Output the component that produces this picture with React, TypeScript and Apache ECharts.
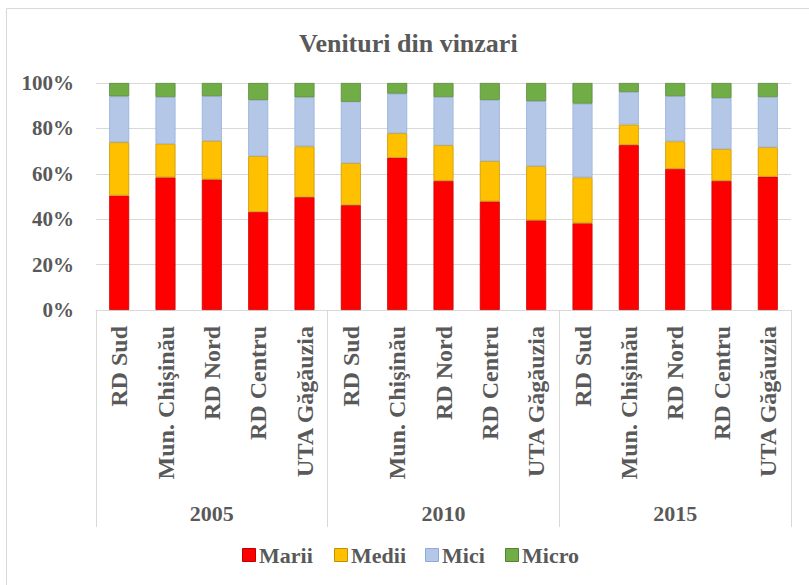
import React, { useEffect, useRef } from "react";
import * as echarts from "echarts";

const regions = ["RD Sud", "Mun. Chişinău", "RD Nord", "RD Centru", "UTA Găgăuzia"];
const years = ["2005", "2010", "2015"];
const categories = years.flatMap((y) => regions.map((r) => r));

const marii = [50.4, 58.4, 57.5, 43.2, 49.7, 46.2, 67.1, 56.9, 47.8, 39.5, 38.2, 72.7, 62.2, 56.9, 58.7];
const medii = [23.5, 14.8, 17.0, 24.6, 22.4, 18.5, 10.8, 15.7, 17.8, 23.9, 20.2, 9.0, 12.1, 14.0, 13.0];
const mici = [20.2, 20.6, 19.7, 24.7, 21.6, 27.0, 17.4, 21.2, 26.9, 28.6, 32.5, 14.3, 19.9, 22.5, 22.1];
const micro = [5.9, 6.2, 5.8, 7.5, 6.3, 8.3, 4.7, 6.2, 7.5, 8.0, 9.1, 4.0, 5.8, 6.6, 6.2];

const yTicks = [0, 20, 40, 60, 80, 100];

const seriesDefs = [
  { name: "Marii", data: marii, color: "#FF0000", border: "#C00000" },
  { name: "Medii", data: medii, color: "#FFC000", border: "#BF9000" },
  { name: "Mici", data: mici, color: "#B4C7E7", border: "#8FAADC" },
  { name: "Micro", data: micro, color: "#70AD47", border: "#548235" },
];

const FONT = "Liberation Serif";
const TXT = "#595959";

// legend layout (x of each swatch)
const legendX = [242, 334, 425, 505];
const legendY = 555;

export default function App() {
  const ref = useRef<HTMLDivElement>(null);
  useEffect(() => {
    if (!ref.current) return;
    const chart = echarts.init(ref.current, null, { renderer: "svg" });
    const legendGraphics: any[] = [];
    seriesDefs.forEach((s, i) => {
      legendGraphics.push({
        type: "rect",
        shape: { x: legendX[i] + 0.5, y: legendY - 6.5, width: 13, height: 13 },
        style: { fill: s.color, stroke: s.border, lineWidth: 1 },
        silent: true,
      });
      legendGraphics.push({
        type: "text",
        x: legendX[i] + 17,
        y: legendY,
        style: {
          text: s.name,
          fontFamily: FONT,
          fontWeight: "bold",
          fontSize: 22,
          fill: TXT,
          verticalAlign: "middle",
          align: "left",
        },
        silent: true,
      });
    });
    chart.setOption({
      animation: false,
      backgroundColor: "#ffffff",
      textStyle: { fontFamily: FONT, fontWeight: "bold", color: TXT },
      title: {
        text: "Venituri din vinzari",
        left: 294,
        top: 25,
        textStyle: { fontFamily: FONT, fontWeight: "bold", fontSize: 26, color: TXT },
      },
      graphic: [
        {
          type: "rect",
          shape: { x: 6.5, y: 8.5, width: 900, height: 700 },
          style: { fill: "none", stroke: "#d9d9d9", lineWidth: 1 },
          silent: true,
        },
        ...legendGraphics,
      ],
      legend: { show: false },
      grid: { left: 96, right: 18, top: 83, bottom: 275, containLabel: false },
      xAxis: [
        {
          type: "category",
          data: categories,
          position: "bottom",
          axisLine: { show: true, lineStyle: { color: "#d9d9d9", width: 1 } },
          axisTick: { show: false },
          axisLabel: {
            interval: 0,
            rotate: 90,
            margin: 16,
            fontFamily: FONT,
            fontWeight: "bold",
            fontSize: 24,
            color: TXT,
          },
        },
        {
          type: "category",
          data: years,
          position: "bottom",
          axisLine: { show: false },
          axisTick: { show: true, interval: 0, length: 217, lineStyle: { color: "#d9d9d9", width: 1 } },
          axisLabel: {
            interval: 0,
            margin: 192,
            fontFamily: FONT,
            fontWeight: "bold",
            fontSize: 22,
            color: TXT,
          },
          splitLine: { show: false },
        },
      ],
      yAxis: {
        type: "value",
        min: yTicks[0],
        max: yTicks[yTicks.length - 1],
        interval: 20,
        axisLine: { show: false },
        axisTick: { show: false },
        splitLine: { lineStyle: { color: "#d9d9d9", width: 1 } },
        axisLabel: {
          formatter: "{value}%",
          margin: 22,
          fontFamily: FONT,
          fontWeight: "bold",
          fontSize: 21,
          color: TXT,
        },
      },
      series: seriesDefs.map((s) => ({
        name: s.name,
        type: "bar",
        stack: "total",
        xAxisIndex: 0,
        barWidth: 20,
        data: s.data,
        itemStyle: { color: s.color, borderColor: s.border, borderWidth: 0.7 },
      })),
    });
    return () => chart.dispose();
  }, []);
  return (
    <div
      ref={ref}
      style={{ position: "fixed", left: 0, top: 0, width: 809, height: 585 }}
    />
  );
}
